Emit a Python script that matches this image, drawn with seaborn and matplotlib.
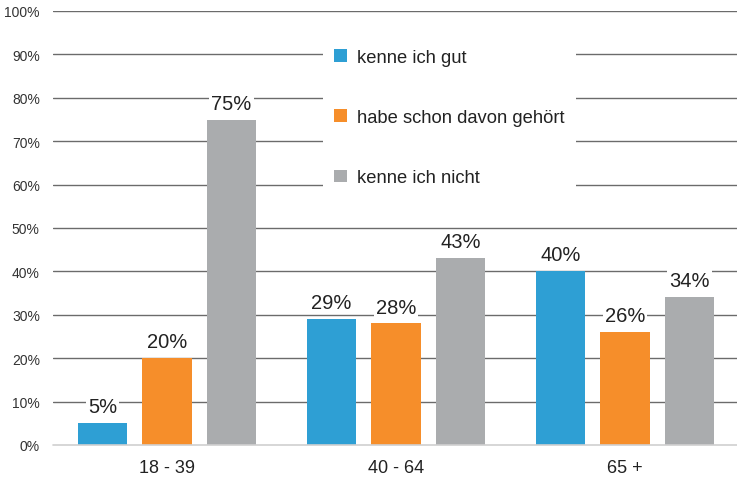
import matplotlib
matplotlib.use("Agg")
import matplotlib.pyplot as plt
import seaborn as sns
import pandas as pd
from matplotlib.ticker import FuncFormatter
from matplotlib.patches import Patch

groups = ["18 - 39", "40 - 64", "65 +"]
series = ["kenne ich gut", "habe schon davon gehört", "kenne ich nicht"]
gut = [5, 29, 40]
gehoert = [20, 28, 26]
nicht = [75, 43, 34]
colors = ["#2E9FD4", "#F68E2A", "#AAACAE"]

rows = []
for s, vals in zip(series, [gut, gehoert, nicht]):
    for g, v in zip(groups, vals):
        rows.append({"Alter": g, "Serie": s, "Wert": v})
df = pd.DataFrame(rows)

sns.set_theme(style="white")
plt.rcParams["font.family"] = ["Liberation Sans", "DejaVu Sans"]

fig = plt.figure(figsize=(7.37, 4.81), dpi=100)
ax = fig.add_axes([53/737, 35/481, 1 - 53/737, (446-12)/481])

sns.barplot(data=df, x="Alter", y="Wert", hue="Serie", palette=colors,
            width=0.845, gap=0.227, ax=ax, legend=False, zorder=3,
            edgecolor="none", saturation=1)

ax.set_ylim(0, 100)
ax.set_xlim(-0.498, 0.489 + 2)
ax.set_yticks(range(0, 101, 10))
ax.yaxis.set_major_formatter(FuncFormatter(lambda v, p: f"{int(v)}%"))
for y in range(10, 101, 10):
    ax.axhline(y, color="#6b6b6b", lw=1, zorder=1)
ax.axhline(0, color="#d0d0d0", lw=1.2, zorder=4, clip_on=False)

for sp in ax.spines.values():
    sp.set_visible(False)
ax.tick_params(axis="y", length=0, pad=9.5, labelsize=10, labelcolor="#333333")
ax.tick_params(axis="x", length=0, pad=10, labelsize=13, labelcolor="#222222")
ax.set_xlabel("")
ax.set_ylabel("")

for cont in ax.containers:
    ax.bar_label(cont, labels=[f"{int(v)}%" for v in cont.datavalues],
                 padding=5, fontsize=14.5, color="#222222", zorder=5,
                 bbox=dict(facecolor="white", edgecolor="none", pad=1.5))

handles = [Patch(facecolor=c, edgecolor="none") for c in colors]
leg = fig.legend(handles, series, loc="upper left",
                 bbox_to_anchor=(314/737, 1 - 30/481),
                 frameon=True, fontsize=13.2, labelspacing=2.35,
                 handlelength=0.7, handleheight=0.7, handletextpad=0.55,
                 borderpad=0.6, fancybox=False)
leg.get_frame().set_facecolor("white")
leg.get_frame().set_edgecolor("none")
leg.get_frame().set_alpha(1)
for t in leg.get_texts():
    t.set_color("#222222")

fig.savefig("out.png", dpi=100)
